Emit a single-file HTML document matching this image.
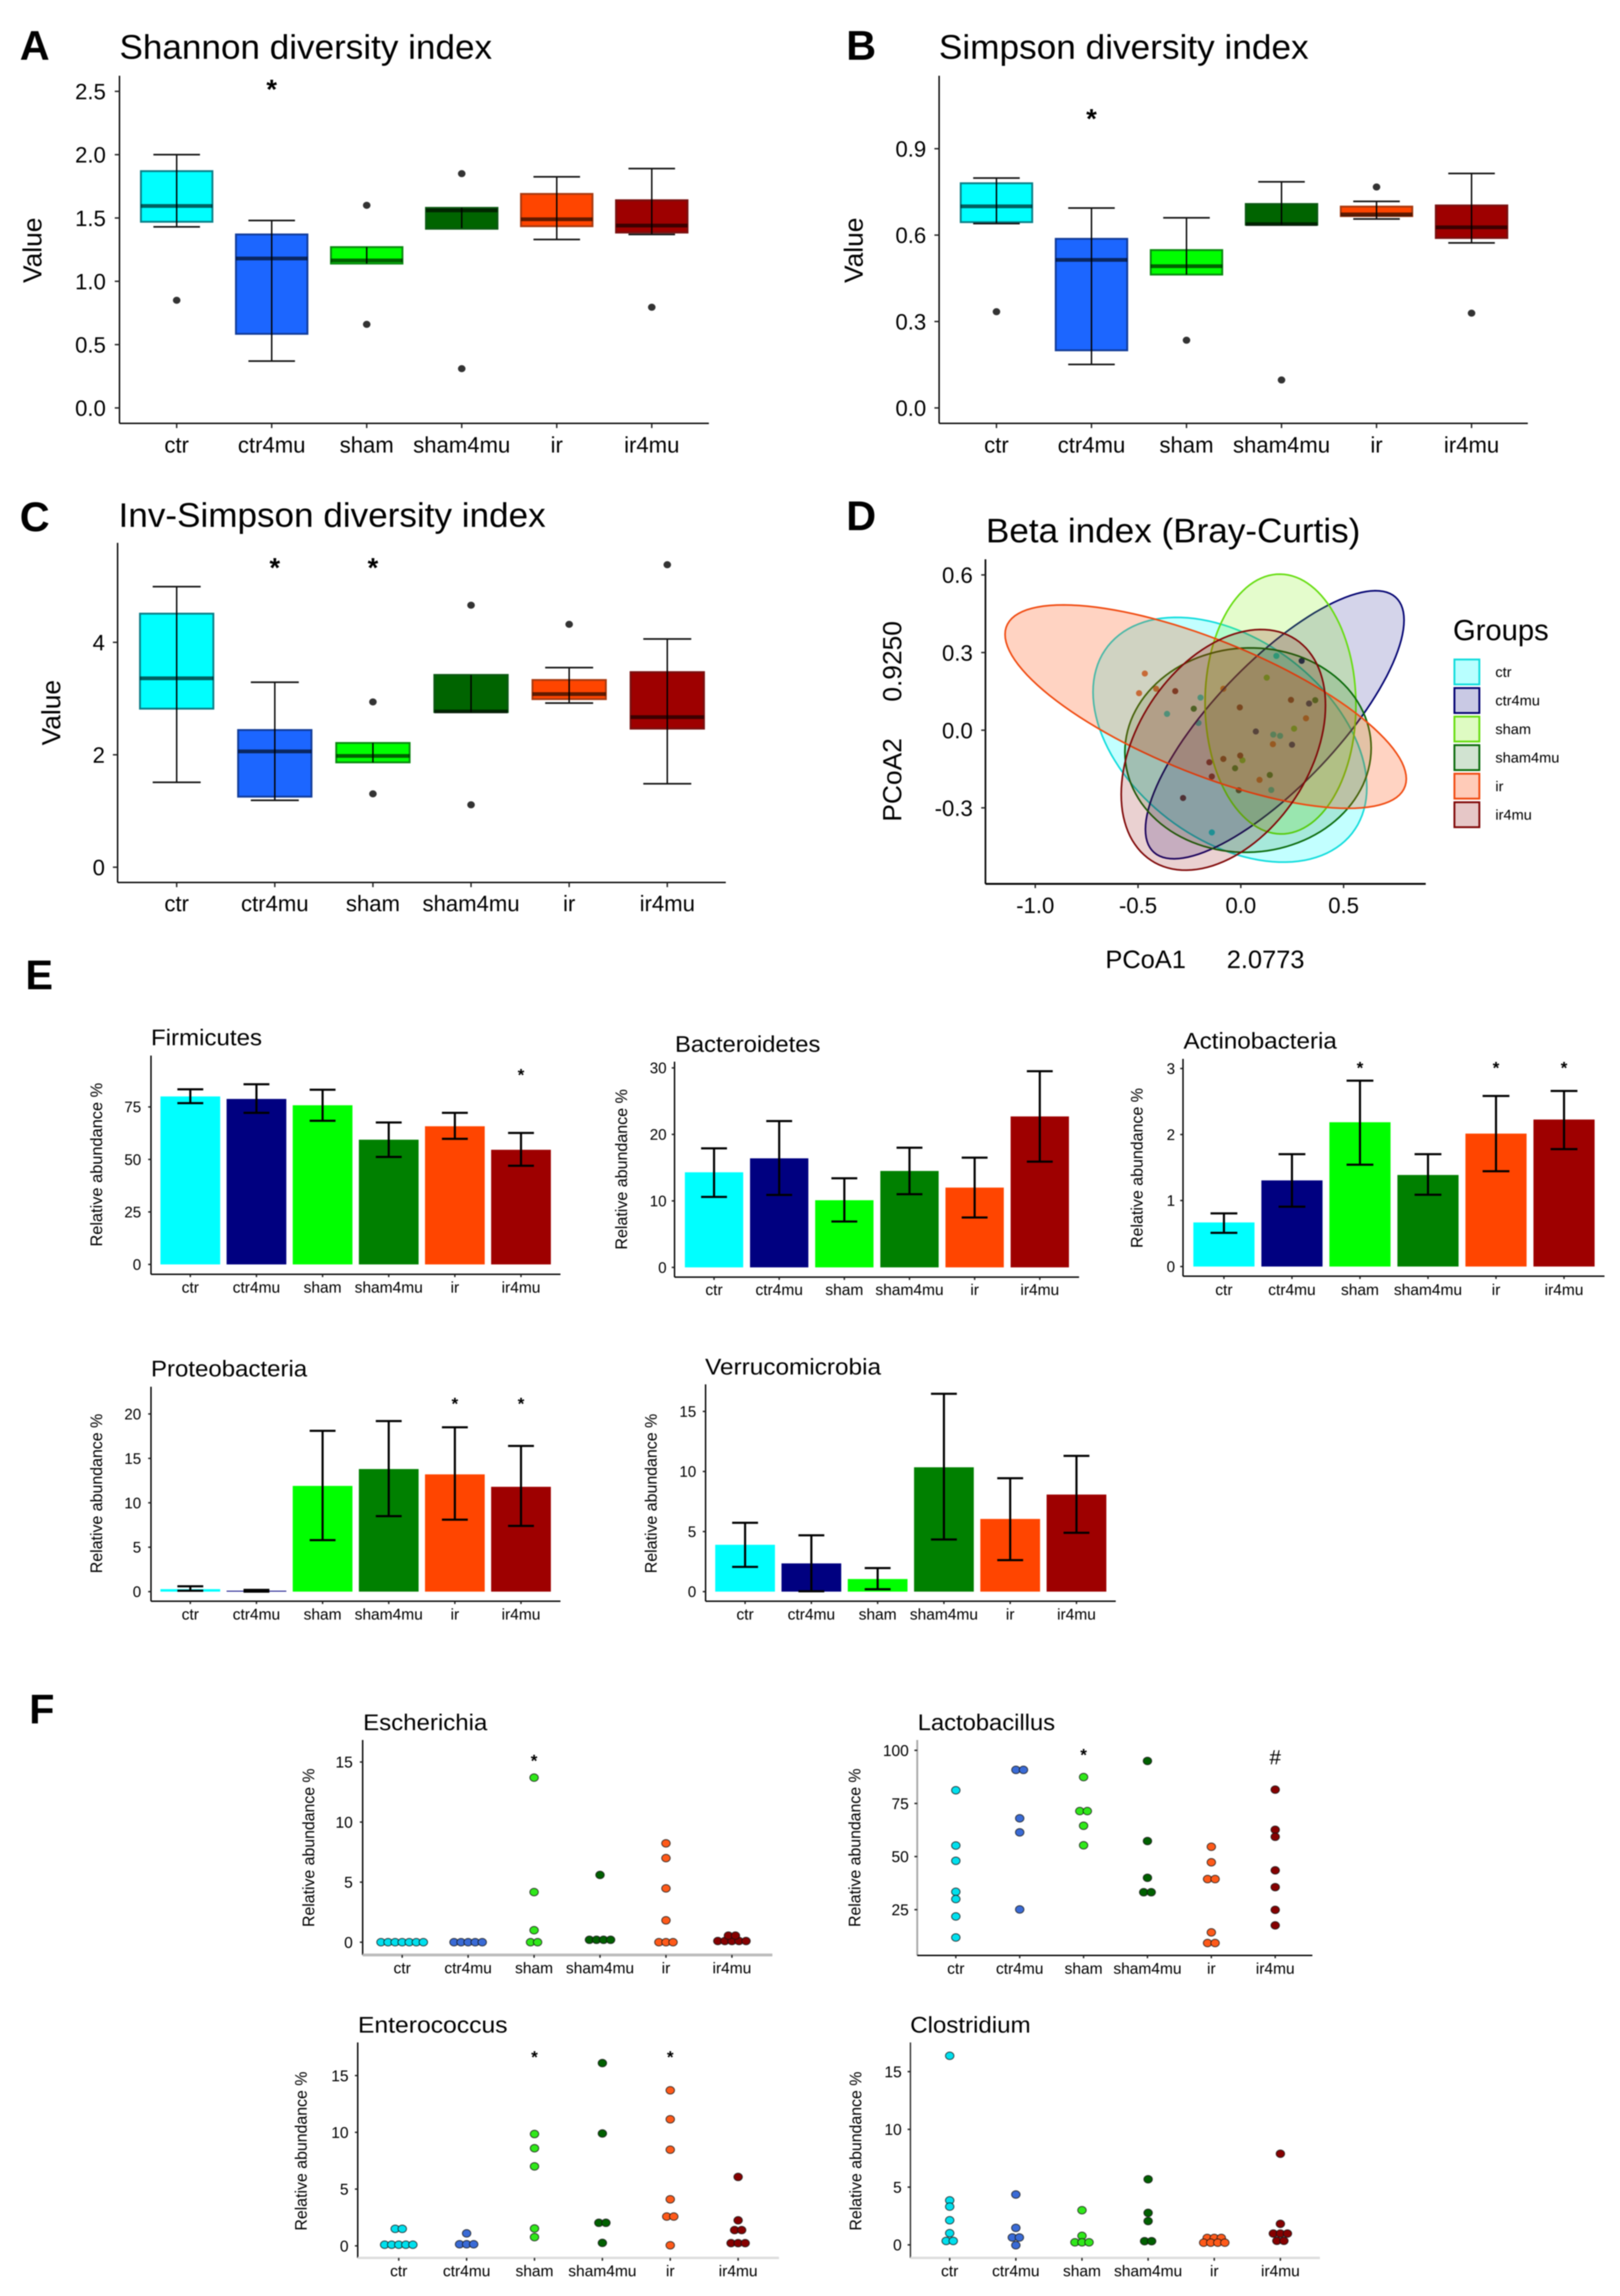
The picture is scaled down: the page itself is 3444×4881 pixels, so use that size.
<!DOCTYPE html>
<html>
<head>
<meta charset="utf-8">
<title>Gut microbiota diversity and abundance figure</title>
<style>
html,body{margin:0;padding:0;background:#fff;}
svg{display:block;filter:blur(1.1px);}
text{font-family:"Liberation Sans",sans-serif;fill:#000;}
.panel{font-weight:bold;font-size:88px;}
.ttl{font-size:72px;}
.sub{font-size:48px;}
</style>
</head>
<body>
<svg id="figure" xmlns="http://www.w3.org/2000/svg" width="3444" height="4881" viewBox="0 0 3444 4881">
<rect width="3444" height="4881" fill="#fff"/>

<text class="panel" x="42" y="127">A</text>
<text class="panel" x="1799" y="127">B</text>
<text class="panel" x="42" y="1129">C</text>
<text class="panel" x="1799" y="1127">D</text>
<text class="panel" x="54" y="2103">E</text>
<text class="panel" x="62" y="3664">F</text>

<text class="ttl" x="254" y="125" textLength="792" lengthAdjust="spacingAndGlyphs">Shannon diversity index</text>
<text class="ttl" x="1996" y="125" textLength="786" lengthAdjust="spacingAndGlyphs">Simpson diversity index</text>
<text class="ttl" x="252" y="1120" textLength="908" lengthAdjust="spacingAndGlyphs">Inv-Simpson diversity index</text>
<text class="ttl" x="2096" y="1153" textLength="796" lengthAdjust="spacingAndGlyphs">Beta index (Bray-Curtis)</text>

<text font-size="56" text-anchor="middle" transform="translate(88,532) rotate(-90)">Value</text>
<text font-size="56" text-anchor="middle" transform="translate(1834,532) rotate(-90)">Value</text>
<text font-size="56" text-anchor="middle" transform="translate(128,1515) rotate(-90)">Value</text>

<text font-size="56" text-anchor="middle" transform="translate(1916,1658) rotate(-90)">PCoA2</text>
<text font-size="56" text-anchor="middle" transform="translate(1916,1406) rotate(-90)">0.9250</text>
<text font-size="54" x="2350" y="2058">PCoA1</text>
<text font-size="54" x="2608" y="2058">2.0773</text>
<text font-size="62" x="3089" y="1361">Groups</text>

<text class="sub" x="321" y="2222" textLength="236" lengthAdjust="spacingAndGlyphs">Firmicutes</text>
<text class="sub" x="1435" y="2236" textLength="309" lengthAdjust="spacingAndGlyphs">Bacteroidetes</text>
<text class="sub" x="2516" y="2229" textLength="326" lengthAdjust="spacingAndGlyphs">Actinobacteria</text>
<text class="sub" x="321" y="2926" textLength="332" lengthAdjust="spacingAndGlyphs">Proteobacteria</text>
<text class="sub" x="1499" y="2922" textLength="374" lengthAdjust="spacingAndGlyphs">Verrucomicrobia</text>

<text font-size="35" text-anchor="middle" textLength="348" lengthAdjust="spacingAndGlyphs" transform="translate(217,2476) rotate(-90)">Relative abundance %</text>
<text font-size="35" text-anchor="middle" textLength="341" lengthAdjust="spacingAndGlyphs" transform="translate(1333,2486) rotate(-90)">Relative abundance %</text>
<text font-size="35" text-anchor="middle" textLength="340" lengthAdjust="spacingAndGlyphs" transform="translate(2429,2483) rotate(-90)">Relative abundance %</text>
<text font-size="35" text-anchor="middle" textLength="339" lengthAdjust="spacingAndGlyphs" transform="translate(217,3175) rotate(-90)">Relative abundance %</text>
<text font-size="35" text-anchor="middle" textLength="339" lengthAdjust="spacingAndGlyphs" transform="translate(1396,3175) rotate(-90)">Relative abundance %</text>

<text class="sub" x="772" y="3678" textLength="264" lengthAdjust="spacingAndGlyphs">Escherichia</text>
<text class="sub" x="1951" y="3678" textLength="292" lengthAdjust="spacingAndGlyphs">Lactobacillus</text>
<text class="sub" x="761" y="4321" textLength="318" lengthAdjust="spacingAndGlyphs">Enterococcus</text>
<text class="sub" x="1935" y="4321" textLength="256" lengthAdjust="spacingAndGlyphs">Clostridium</text>

<text font-size="35" text-anchor="middle" textLength="337" lengthAdjust="spacingAndGlyphs" transform="translate(668,3928) rotate(-90)">Relative abundance %</text>
<text font-size="35" text-anchor="middle" textLength="337" lengthAdjust="spacingAndGlyphs" transform="translate(1829,3928) rotate(-90)">Relative abundance %</text>
<text font-size="35" text-anchor="middle" textLength="338" lengthAdjust="spacingAndGlyphs" transform="translate(652,4573) rotate(-90)">Relative abundance %</text>
<text font-size="35" text-anchor="middle" textLength="338" lengthAdjust="spacingAndGlyphs" transform="translate(1831,4573) rotate(-90)">Relative abundance %</text>

<g id="marks"></g>
</svg>

<script>
// ---------- shared data ----------
const categories = ['ctr','ctr4mu','sham','sham4mu','ir','ir4mu'];

// Panel A: Shannon
const shannonTicks = ['0.0','0.5','1.0','1.5','2.0','2.5'];
const shannonWhiskerHigh = [2.0,1.48,1.27,1.58,1.825,1.89];
const shannonQ3 = [1.87,1.37,1.27,1.58,1.69,1.64];
const shannonMedian = [1.595,1.18,1.165,1.56,1.49,1.44];
const shannonQ1 = [1.47,0.585,1.14,1.415,1.435,1.385];
const shannonWhiskerLow = [1.43,0.37,1.14,1.42,1.33,1.37];
const shannonOutliers = [[0.85],[],[1.6,0.66],[1.85,0.31],[],[0.795]];
const shannonStarCats = [1];
const shannonStarValues = [2.545];

// Panel B: Simpson
const simpsonTicks = ['0.0','0.3','0.6','0.9'];
const simpsonWhiskerHigh = [0.798,0.694,0.66,0.785,0.717,0.814];
const simpsonQ3 = [0.78,0.587,0.548,0.708,0.699,0.703];
const simpsonMedian = [0.70,0.514,0.492,0.638,0.672,0.627];
const simpsonQ1 = [0.645,0.2,0.463,0.636,0.666,0.59];
const simpsonWhiskerLow = [0.64,0.151,0.463,0.636,0.656,0.573];
const simpsonOutliers = [[0.334],[],[0.235],[0.097],[0.767],[0.329]];
const simpsonStarCats = [1];
const simpsonStarValues = [1.017];

// Panel C: Inv-Simpson
const invSimpsonTicks = ['0','2','4'];
const invSimpsonWhiskerHigh = [4.99,3.29,2.21,3.42,3.55,4.06];
const invSimpsonQ3 = [4.51,2.44,2.21,3.42,3.33,3.47];
const invSimpsonMedian = [3.36,2.06,1.98,2.77,3.08,2.67];
const invSimpsonQ1 = [2.82,1.255,1.865,2.76,2.99,2.465];
const invSimpsonWhiskerLow = [1.51,1.19,1.865,2.76,2.92,1.485];
const invSimpsonOutliers = [[],[],[2.94,1.305],[4.66,1.11],[4.32],[5.38]];
const invSimpsonStarCats = [1,2];
const invSimpsonStarValues = [5.39,5.39];

// Panel D: PCoA ellipses (centre, spread, correlation per group) and points
const betaXTicks = ['-1.0','-0.5','0.0','0.5'];
const betaYTicks = ['-0.3','0.0','0.3','0.6'];
const ellipseCenterX = [-0.053,0.165,0.193,0.035,-0.171,-0.085];
const ellipseCenterY = [-0.037,0.021,0.101,-0.077,0.091,-0.076];
const ellipseSpreadX = [0.666,0.629,0.367,0.599,0.976,0.497];
const ellipseSpreadY = [0.473,0.518,0.502,0.395,0.393,0.465];
const ellipseCorr = [-0.39,0.78,-0.01,0.02,-0.71,0.37];
const betaPointsX = [
  [-0.359,-0.196,-0.206,0.158,0.191,0.148,-0.141,0.173],
  [0.296,0.332,0.249,0.073],
  [0.126,0.259,0.008],
  [-0.229,0.362,-0.028,0.141],
  [-0.467,-0.495,-0.412,-0.085,0.317,0.156,0.091],
  [-0.319,0.244,-0.005,-0.153,-0.085,-0.141,-0.281,-0.003,-0.01]
];
const betaPointsY = [
  [0.063,0.126,0.028,-0.017,-0.022,-0.231,-0.395,0.287],
  [0.268,0.103,-0.056,-0.005],
  [0.203,0.006,-0.116],
  [0.083,0.116,-0.147,-0.173],
  [0.219,0.143,0.16,0.16,0.046,-0.054,-0.192],
  [0.151,0.117,0.088,-0.124,-0.111,-0.179,-0.262,-0.098,-0.232]
];

// Panel E: bars
const firmicutesTicks = ['0','25','50','75'];
const firmicutesMeans = [80,78.8,75.8,59.4,65.8,54.6];
const firmicutesErrHigh = [83.4,85.8,83.2,67.6,72.2,62.6];
const firmicutesErrLow = [76.8,72.2,68.4,51.2,59.8,47];
const firmicutesStarCats = [5];
const firmicutesStarValues = [91.4];

const bacteroidetesTicks = ['0','10','20','30'];
const bacteroidetesMeans = [14.3,16.4,10.1,14.5,12,22.7];
const bacteroidetesErrHigh = [17.9,22,13.4,18,16.5,29.5];
const bacteroidetesErrLow = [10.6,10.9,6.9,11,7.5,15.9];
const bacteroidetesStarCats = [];
const bacteroidetesStarValues = [];

const actinobacteriaTicks = ['0','1','2','3'];
const actinobacteriaMeans = [0.668,1.305,2.186,1.387,2.014,2.227];
const actinobacteriaErrHigh = [0.805,1.702,2.816,1.702,2.584,2.66];
const actinobacteriaErrLow = [0.51,0.907,1.543,1.088,1.444,1.779];
const actinobacteriaStarCats = [2,4,5];
const actinobacteriaStarValues = [3.045,3.045,3.045];

const proteobacteriaTicks = ['0','5','10','15','20'];
const proteobacteriaMeans = [0.28,0.1,11.9,13.8,13.2,11.8];
const proteobacteriaErrHigh = [0.6,0.2,18.1,19.2,18.5,16.4];
const proteobacteriaErrLow = [0.1,0,5.8,8.5,8.1,7.4];
const proteobacteriaStarCats = [4,5];
const proteobacteriaStarValues = [21.4,21.4];

const verrucomicrobiaTicks = ['0','5','10','15'];
const verrucomicrobiaMeans = [3.9,2.35,1.05,10.35,6.05,8.08];
const verrucomicrobiaErrHigh = [5.73,4.69,1.96,16.47,9.44,11.3];
const verrucomicrobiaErrLow = [2.06,0.03,0.2,4.34,2.62,4.9];
const verrucomicrobiaStarCats = [];
const verrucomicrobiaStarValues = [];

// Panel F: dot plots (equal values sit side by side)
const escherichiaTicks = ['0','5','10','15'];
const escherichiaValues = [
  [0,0,0,0,0,0,0],
  [0,0,0,0,0],
  [13.7,4.17,1,0,0],
  [5.6,0.2,0.2,0.2,0.2],
  [8.23,7,4.48,1.82,0,0,0],
  [0.1,0.1,0.1,0.1,0.1,0.55,0.55]
];
const escherichiaStarCats = [2];
const escherichiaStarValues = [15.3];

const lactobacillusTicks = ['25','50','75','100'];
const lactobacillusValues = [
  [81.2,55.2,48,33.4,30,21.8,11.9],
  [90.8,90.8,68,61.4,25.1],
  [87.4,71.4,71.4,64.5,55.3],
  [95,57.3,40,33.2,33.2],
  [54.6,47.3,39.4,39.4,14.3,9.3,9.3],
  [81.5,62.6,59.3,43.5,35.6,24.9,17.6]
];
const lactobacillusStarCats = [2];
const lactobacillusStarValues = [98.9];
const lactobacillusHashCats = [5];
const lactobacillusHashValues = [97];

const enterococcusTicks = ['0','5','10','15'];
const enterococcusValues = [
  [1.5,1.5,0.1,0.1,0.1,0.1,0.1],
  [1.1,0.14,0.14,0.14],
  [9.85,8.6,7,1.53,0.77],
  [16.1,9.9,2.03,2.03,0.26],
  [13.7,11.15,8.47,4.1,2.58,2.58,0.05],
  [6.07,2.25,1.39,1.39,0.24,0.24,0.24]
];
const enterococcusStarCats = [2,4];
const enterococcusStarValues = [16.84,16.84];

const clostridiumTicks = ['0','5','10','15'];
const clostridiumValues = [
  [16.37,3.85,3.31,2.13,1.01,0.34,0.34],
  [4.36,1.47,0.64,0.64,-0.03],
  [3,0.78,0.22,0.22,0.22],
  [5.68,2.77,2.06,0.32,0.32],
  [0.6,0.6,0.6,0.19,0.19,0.19,0.19],
  [7.89,1.82,0.98,0.98,0.98,0.35,0.35]
];
const clostridiumStarCats = [];
const clostridiumStarValues = [];

// ---------- palettes ----------
const boxColors = ['#00ffff','#1c66ff','#00ff00','#006400','#ff4500','#9e0000'];
const boxEdges = ['#0c7f88','#123c9a','#0a8a10','#0b5a12','#a83a10','#7a1010'];
const barColors = ['#00ffff','#000080','#00ff00','#008000','#ff4500','#9e0000'];
const ellipseFills = ['#00ffff','#000080','#77ee00','#006400','#ff4500','#8b0000'];
const ellipseOpacity = [0.24,0.17,0.2,0.14,0.24,0.18];
const ellipseStrokes = ['#10dcdc','#000070','#66dd10','#0a6a0a','#f04a10','#800808'];
const dotColors = ['#00e0ee','#3a6bd6','#30e81a','#006000','#ff5a1a','#860000'];

// ---------- helpers ----------
const NS = 'http://www.w3.org/2000/svg';
const root = document.getElementById('marks');
function node(tag, attrs, parent) {
  const el = document.createElementNS(NS, tag);
  for (const k in attrs) el.setAttribute(k, attrs[k]);
  parent.appendChild(el);
  return el;
}
function scale(v0, p0, v1, p1) {
  return function (v) { return p0 + (v - v0) * (p1 - p0) / (v1 - v0); };
}
function catX(L) {
  return function (i) { return L.firstX + i * L.stepX; };
}

function drawAxes(prefix, L, ticks, g) {
  const y = scale(L.v0, L.p0, L.v1, L.p1);
  const x = catX(L);
  const leftAxis = node('line', {x1:L.left, x2:L.left, y1:L.top, y2:L.bottom, stroke:L.leftColor||'#000', 'stroke-width':L.leftWidth||3}, g);
  
  
  const bottomAxis = node('line', {x1:L.left, x2:L.right, y1:L.bottom, y2:L.bottom, stroke:L.bottomColor||'#000', 'stroke-width':L.bottomWidth||3}, g);
  
  
  ticks.forEach(function (label) {
    const p = y(parseFloat(label));
    const tick = node('line', {x1:L.left - L.tickLen, x2:L.left, y1:p, y2:p, stroke:'#222', 'stroke-width':3}, g);
    
    
    const t = node('text', {x:L.labelRight, y:p + L.tickFont * 0.36, 'text-anchor':'end', 'font-size':L.tickFont, fill:'#111'}, g);
    t.textContent = label;
    
    
  });
  categories.forEach(function (c, i) {
    const tick = node('line', {x1:x(i), x2:x(i), y1:L.bottom, y2:L.bottom + L.tickLen, stroke:'#222', 'stroke-width':3}, g);
    
    
    const t = node('text', {x:x(i), y:L.catBaseline, 'text-anchor':'middle', 'font-size':L.catFont, fill:'#111'}, g);
    t.textContent = c;
    
    
  });
}

function drawStars(prefix, L, cats, values, glyph, size, g) {
  const y = scale(L.v0, L.p0, L.v1, L.p1);
  const x = catX(L);
  cats.forEach(function (c, k) {
    const t = node('text', {x:x(c), y:y(values[k]) + size * (glyph === '*' ? 0.48 : 0.36), 'text-anchor':'middle', 'font-size':size, 'font-weight':glyph === '*' ? 'bold' : 'normal'}, g);
    t.textContent = glyph;
    
    
  });
}

function drawBox(prefix, L, ticks, wHigh, q3, med, q1, wLow, outliers, starCats, starVals) {
  const g = node('g', {}, root);
  
  
  const y = scale(L.v0, L.p0, L.v1, L.p1);
  const x = catX(L);
  drawAxes(prefix, L, ticks, g);
  categories.forEach(function (c, i) {
    const b = node('rect', {x:x(i) - L.boxW / 2, y:y(q3[i]), width:L.boxW, height:y(q1[i]) - y(q3[i]), fill:boxColors[i], stroke:boxEdges[i], 'stroke-width':4}, g);
    
    
    const m = node('line', {x1:x(i) - L.boxW / 2, x2:x(i) + L.boxW / 2, y1:y(med[i]), y2:y(med[i]), stroke:'#000', 'stroke-opacity':0.62, 'stroke-width':8}, g);
    
    
    const w = node('line', {x1:x(i), x2:x(i), y1:y(wHigh[i]), y2:y(wLow[i]), stroke:'#000', 'stroke-width':3}, g);
    
    
    if (wHigh[i] > q3[i]) {
      const capHi = node('line', {x1:x(i) - L.capW / 2, x2:x(i) + L.capW / 2, y1:y(wHigh[i]), y2:y(wHigh[i]), stroke:'#111', 'stroke-width':3.5}, g);
      
      
    }
    if (wLow[i] < q1[i]) {
      const capLo = node('line', {x1:x(i) - L.capW / 2, x2:x(i) + L.capW / 2, y1:y(wLow[i]), y2:y(wLow[i]), stroke:'#111', 'stroke-width':3.5}, g);
      
      
    }
    outliers[i].forEach(function (v) {
      const o = node('ellipse', {cx:x(i), cy:y(v), rx:8, ry:7.5, fill:'#333'}, g);
      
      
    });
  });
  drawStars(prefix, L, starCats, starVals, '*', 58, g);
}

function drawBars(prefix, L, ticks, means, errHigh, errLow, starCats, starVals) {
  const g = node('g', {}, root);
  
  
  const y = scale(L.v0, L.p0, L.v1, L.p1);
  const x = catX(L);
  drawAxes(prefix, L, ticks, g);
  categories.forEach(function (c, i) {
    const b = node('rect', {x:x(i) - L.barW / 2, y:y(means[i]), width:L.barW, height:Math.max(y(0) - y(means[i]), 1), fill:barColors[i]}, g);
    
    
    const e = node('line', {x1:x(i), x2:x(i), y1:y(errHigh[i]), y2:y(errLow[i]), stroke:'#000', 'stroke-width':4.5}, g);
    
    
    const capHi = node('line', {x1:x(i) - L.capW / 2, x2:x(i) + L.capW / 2, y1:y(errHigh[i]), y2:y(errHigh[i]), stroke:'#000', 'stroke-width':4.5}, g);
    
    
    const capLo = node('line', {x1:x(i) - L.capW / 2, x2:x(i) + L.capW / 2, y1:y(errLow[i]), y2:y(errLow[i]), stroke:'#000', 'stroke-width':4.5}, g);
    
    
  });
  drawStars(prefix, L, starCats, starVals, '*', 36, g);
}

function drawDots(prefix, L, ticks, values, starCats, starVals) {
  const g = node('g', {}, root);
  
  
  const y = scale(L.v0, L.p0, L.v1, L.p1);
  const x = catX(L);
  drawAxes(prefix, L, ticks, g);
  categories.forEach(function (c, i) {
    const rows = new Map();
    values[i].forEach(function (v) { rows.set(v, (rows.get(v) || 0) + 1); });
    rows.forEach(function (count, v) {
      for (let k = 0; k < count; k++) {
        const d = node('ellipse', {cx:x(i) + (k - (count - 1) / 2) * L.dotStep, cy:y(v), rx:9, ry:8, fill:dotColors[i], stroke:'#111', 'stroke-opacity':0.75, 'stroke-width':2}, g);
        
        
      }
    });
  });
  drawStars(prefix, L, starCats, starVals, '*', 36, g);
}

function drawBeta() {
  const g = node('g', {}, root);
  
  
  const left = 2095, right = 3031, top = 1189, bottom = 1879;
  const x = scale(0, 2637.9, 0.5, 2856.4);
  const y = scale(0, 1552.3, 0.6, 1222.2);
  categories.forEach(function (c, i) {
    betaPointsX[i].forEach(function (v, k) {
      const p = node('circle', {cx:x(v), cy:y(betaPointsY[i][k]), r:6.5, fill:ellipseStrokes[i]}, g);
      
      
    });
  });
  categories.forEach(function (c, i) {
    let d = '';
    for (let k = 0; k <= 120; k++) {
      const t = k / 120 * 2 * Math.PI;
      const px = x(ellipseCenterX[i] + ellipseSpreadX[i] * Math.cos(t));
      const r = ellipseCorr[i];
      const py = y(ellipseCenterY[i] + ellipseSpreadY[i] * (r * Math.cos(t) + Math.sqrt(1 - r * r) * Math.sin(t)));
      d += (k ? 'L' : 'M') + px.toFixed(1) + ' ' + py.toFixed(1);
    }
    const e = node('path', {d:d + 'Z', fill:ellipseFills[i], 'fill-opacity':ellipseOpacity[i], stroke:ellipseStrokes[i], 'stroke-width':3.5}, g);
    
    
  });
  const la = node('line', {x1:left, x2:left, y1:top, y2:bottom, stroke:'#000', 'stroke-width':3.5}, g);
  
  
  const ba = node('line', {x1:left, x2:right, y1:bottom, y2:bottom, stroke:'#000', 'stroke-width':4}, g);
  
  
  betaYTicks.forEach(function (label) {
    const p = y(parseFloat(label));
    const tick = node('line', {x1:left - 9, x2:left, y1:p, y2:p, stroke:'#222', 'stroke-width':3}, g);
    
    
    const t = node('text', {x:2068, y:p + 17, 'text-anchor':'end', 'font-size':47, fill:'#111'}, g);
    t.textContent = label;
    
    
  });
  betaXTicks.forEach(function (label) {
    const p = x(parseFloat(label));
    const tick = node('line', {x1:p, x2:p, y1:bottom, y2:bottom + 9, stroke:'#222', 'stroke-width':3}, g);
    
    
    const t = node('text', {x:p, y:1941, 'text-anchor':'middle', 'font-size':47, fill:'#111'}, g);
    t.textContent = label;
    
    
  });
  categories.forEach(function (c, i) {
    const keyY = 1402 + i * 60.7;
    const key = node('rect', {x:3092, y:keyY, width:53, height:53, fill:ellipseFills[i], 'fill-opacity':ellipseOpacity[i] + 0.04, stroke:ellipseStrokes[i], 'stroke-width':4}, g);
    
    
    const lab = node('text', {x:3179, y:keyY + 37, 'font-size':31, fill:'#111'}, g);
    lab.textContent = c;
    
    
  });
}

// ---------- layouts ----------
const shannonLayout = {left:254,right:1507,top:161,bottom:900,firstX:375.6,stepX:202,v0:0,p0:867.2,v1:2.5,p1:194.2,boxW:152,capW:99,tickLen:10,tickFont:47,labelRight:225,catFont:47,catBaseline:962};
const simpsonLayout = {left:1996.5,right:3248,top:161,bottom:900,firstX:2118.4,stepX:202,v0:0,p0:867.2,v1:0.9,p1:316.1,boxW:152,capW:99,tickLen:10,tickFont:47,labelRight:1969,catFont:47,catBaseline:962};
const invSimpsonLayout = {left:250,right:1543,top:1154,bottom:1876,firstX:375.6,stepX:208.6,v0:0,p0:1843.6,v1:4,p1:1365.5,boxW:156,capW:102,tickLen:10,tickFont:47,labelRight:223,catFont:47,catBaseline:1937};

const firmicutesLayout = {left:321,right:1191.5,top:2244,bottom:2709,firstX:404.6,stepX:140.6,v0:0,p0:2688,v1:75,p1:2353.2,barW:127,capW:55,tickLen:6,tickFont:32,labelRight:300,catFont:33,catBaseline:2748};
const proteobacteriaLayout = {left:321,right:1191.5,top:2948,bottom:3404,firstX:404.6,stepX:140.6,v0:0,p0:3383.6,v1:20,p1:3005.9,barW:127,capW:55,tickLen:6,tickFont:32,labelRight:300,catFont:33,catBaseline:3443};
const bacteroidetesLayout = {left:1434,right:2294,top:2257,bottom:2715,firstX:1518,stepX:138.5,v0:0,p0:2694.3,v1:30,p1:2270.2,barW:124,capW:55,tickLen:6,tickFont:32,labelRight:1417,catFont:33,catBaseline:2753};
const verrucomicrobiaLayout = {left:1500,right:2372,top:2943,bottom:3404,firstX:1584,stepX:140.9,v0:0,p0:3383.6,v1:15,p1:3000.5,barW:127,capW:55,tickLen:6,tickFont:32,labelRight:1480,catFont:33,catBaseline:3443};
const actinobacteriaLayout = {left:2515,right:3411,top:2251,bottom:2713,firstX:2602,stepX:144.6,v0:0,p0:2692.5,v1:3,p1:2271.5,barW:130,capW:57,tickLen:6,tickFont:32,labelRight:2498,catFont:33,catBaseline:2753};

const escherichiaLayout = {left:771,right:1642,top:3699,bottom:4156,firstX:855,stepX:140.2,v0:0,p0:4128.9,v1:15,p1:3745.8,dotStep:15,tickLen:6,tickFont:33,labelRight:750,catFont:33,catBaseline:4195,bottomColor:'#bbb',bottomWidth:6};
const lactobacillusLayout = {left:1950,right:2790,top:3699,bottom:4157,firstX:2032,stepX:135.8,v0:25,p0:4059.7,v1:100,p1:3721,dotStep:16,tickLen:6,tickFont:33,labelRight:1932,catFont:33,catBaseline:4196,leftColor:'#aaa',leftWidth:4};
const enterococcusLayout = {left:760.5,right:1656,top:4342,bottom:4800,firstX:847.7,stepX:144.3,v0:0,p0:4774.4,v1:15,p1:4412.4,dotStep:15,tickLen:6,tickFont:33,labelRight:741,catFont:33,catBaseline:4839,bottomColor:'#ddd',bottomWidth:5};
const clostridiumLayout = {left:1935.5,right:2806,top:4342,bottom:4800,firstX:2019,stepX:140.6,v0:0,p0:4772.3,v1:15,p1:4404,dotStep:15,tickLen:6,tickFont:33,labelRight:1917,catFont:33,catBaseline:4839,leftColor:'#333',bottomColor:'#ddd',bottomWidth:5};

// ---------- render ----------
drawBox('shannon', shannonLayout, shannonTicks, shannonWhiskerHigh, shannonQ3, shannonMedian, shannonQ1, shannonWhiskerLow, shannonOutliers, shannonStarCats, shannonStarValues);
drawBox('simpson', simpsonLayout, simpsonTicks, simpsonWhiskerHigh, simpsonQ3, simpsonMedian, simpsonQ1, simpsonWhiskerLow, simpsonOutliers, simpsonStarCats, simpsonStarValues);
drawBox('inv-simpson', invSimpsonLayout, invSimpsonTicks, invSimpsonWhiskerHigh, invSimpsonQ3, invSimpsonMedian, invSimpsonQ1, invSimpsonWhiskerLow, invSimpsonOutliers, invSimpsonStarCats, invSimpsonStarValues);
drawBeta();
drawBars('firmicutes', firmicutesLayout, firmicutesTicks, firmicutesMeans, firmicutesErrHigh, firmicutesErrLow, firmicutesStarCats, firmicutesStarValues);
drawBars('bacteroidetes', bacteroidetesLayout, bacteroidetesTicks, bacteroidetesMeans, bacteroidetesErrHigh, bacteroidetesErrLow, bacteroidetesStarCats, bacteroidetesStarValues);
drawBars('actinobacteria', actinobacteriaLayout, actinobacteriaTicks, actinobacteriaMeans, actinobacteriaErrHigh, actinobacteriaErrLow, actinobacteriaStarCats, actinobacteriaStarValues);
drawBars('proteobacteria', proteobacteriaLayout, proteobacteriaTicks, proteobacteriaMeans, proteobacteriaErrHigh, proteobacteriaErrLow, proteobacteriaStarCats, proteobacteriaStarValues);
drawBars('verrucomicrobia', verrucomicrobiaLayout, verrucomicrobiaTicks, verrucomicrobiaMeans, verrucomicrobiaErrHigh, verrucomicrobiaErrLow, verrucomicrobiaStarCats, verrucomicrobiaStarValues);
drawDots('escherichia', escherichiaLayout, escherichiaTicks, escherichiaValues, escherichiaStarCats, escherichiaStarValues);
drawDots('lactobacillus', lactobacillusLayout, lactobacillusTicks, lactobacillusValues, lactobacillusStarCats, lactobacillusStarValues);
drawStars('lactobacillus-hash', lactobacillusLayout, lactobacillusHashCats, lactobacillusHashValues, '#', 44, root);
drawDots('enterococcus', enterococcusLayout, enterococcusTicks, enterococcusValues, enterococcusStarCats, enterococcusStarValues);
drawDots('clostridium', clostridiumLayout, clostridiumTicks, clostridiumValues, clostridiumStarCats, clostridiumStarValues);
</script>
</body>
</html>
